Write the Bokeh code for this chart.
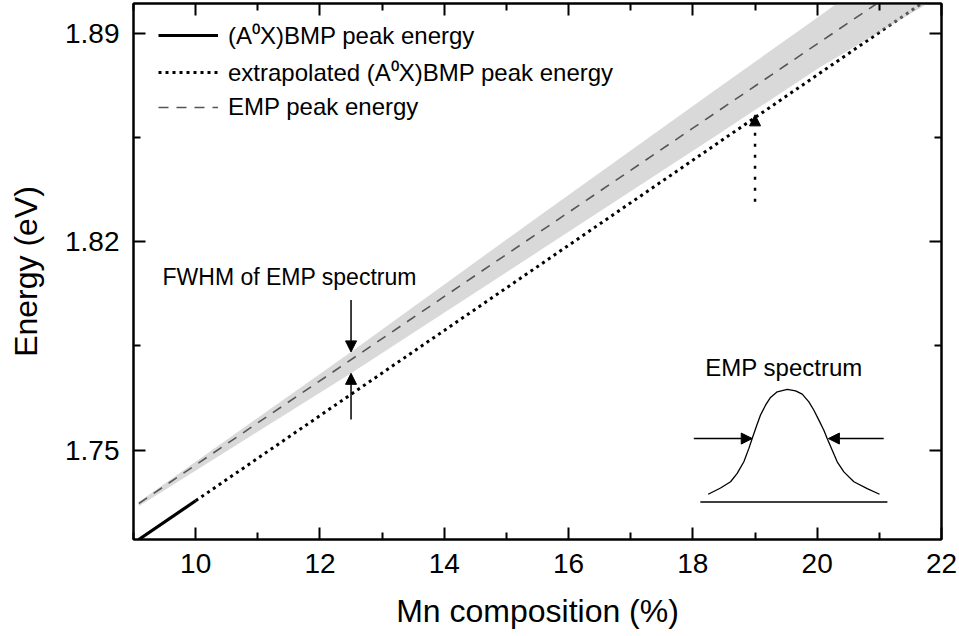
from bokeh.plotting import figure
from bokeh.models import (FixedTicker, LinearAxis, Range1d, Legend, LegendItem,
                          Arrow, NormalHead, Label)
from bokeh.embed import file_html
from bokeh.resources import INLINE

FONT = "Liberation Sans"

# ---------------- data ----------------
x_ticks = [10, 12, 14, 16, 18, 20, 22]
x_minor = [9, 11, 13, 15, 17, 19, 21]
y_ticks = [1.75, 1.82, 1.89]
y_minor = [1.785, 1.855]

# (A0X)BMP peak energy (measured)
bmp_x = [9.085, 10.0]
bmp_e = [1.7200, 1.7330]
# extrapolated (A0X)BMP peak energy
extrap_x = [10.0, 21.70]
extrap_e = [1.7330, 1.9003]
# EMP peak energy
emp_x = [9.085, 20.96]
emp_e = [1.7321, 1.9000]
# FWHM band of EMP spectrum
band_x = [9.085, 12.5, 15.55, 18.44, 20.05, 21.78]
band_upper = [1.7326, 1.7830, 1.8290, 1.8721, 1.8960, 1.9220]
band_lower = [1.7312, 1.7758, 1.8172, 1.8565, 1.8787, 1.9000]

# inset: sketch of an EMP spectrum
spec_x = [18.246, 18.445, 18.606, 18.713, 18.820, 18.901, 18.954, 19.024,
          19.088, 19.169, 19.249, 19.357, 19.518, 19.652, 19.759, 19.866,
          19.947, 20.027, 20.107, 20.161, 20.242, 20.322, 20.429, 20.590,
          20.805, 21.003]
spec_e = [1.7352, 1.7373, 1.7394, 1.7422, 1.7461, 1.7506, 1.7539, 1.7581,
          1.7618, 1.7651, 1.7677, 1.7696, 1.7704, 1.7699, 1.7688, 1.7662,
          1.7634, 1.7601, 1.7567, 1.7539, 1.7500, 1.7461, 1.7427, 1.7394,
          1.7371, 1.7352]
spec_base_x = [18.12, 21.13]
spec_base_e = [1.7326, 1.7326]
spec_arrow_e = 1.7539
spec_left_arrow = (18.015, 18.955)
spec_right_arrow = (21.07, 20.18)

# FWHM arrows at 12.5 %
fwhm_x = 12.5
fwhm_down = (1.8004, 1.7830)
fwhm_up = (1.7603, 1.7758)
# dotted arrow at 19 %
dot_arrow_x = 19.0
dot_arrow = (1.8334, 1.8626)

legend_labels = ["(A\u2070X)BMP peak energy",
                 "extrapolated (A\u2070X)BMP peak energy",
                 "EMP peak energy"]
fwhm_text = "FWHM of EMP spectrum"
fwhm_text_pos = (9.467, 1.8080)
spec_text = "EMP spectrum"
spec_text_pos = (18.20, 1.7776)

# ---------------- figure ----------------
p = figure(width=959, height=636, x_range=Range1d(9, 22), y_range=Range1d(1.72, 1.90),
           output_backend="svg", toolbar_location=None,
           min_border_left=133, min_border_right=18, min_border_top=3,
           min_border_bottom=97,
           x_axis_label="Mn composition (%)", y_axis_label="Energy (eV)")
p.xgrid.visible = False
p.ygrid.visible = False
p.outline_line_color = "black"
p.outline_line_width = 2
p.background_fill_color = "white"
p.border_fill_color = "white"


def style(ax, ticker, labels=True):
    ax.ticker = ticker
    ax.axis_line_width = 2
    ax.axis_line_color = "black"
    ax.major_tick_line_width = 2
    ax.minor_tick_line_width = 2
    ax.major_tick_in = 12
    ax.major_tick_out = 0
    ax.minor_tick_in = 7
    ax.minor_tick_out = 0
    ax.major_label_text_font = FONT
    ax.major_label_text_color = "black"
    ax.axis_label_text_font = FONT
    ax.axis_label_text_font_style = "normal"
    ax.axis_label_text_color = "black"
    if labels:
        ax.major_label_text_font_size = "28px"
        ax.axis_label_text_font_size = "32px"
    else:
        ax.major_label_text_font_size = "0px"
        ax.major_label_text_color = None
        ax.major_label_standoff = 0
        ax.axis_label = None


xt = FixedTicker(ticks=x_ticks, minor_ticks=x_minor)
yt = FixedTicker(ticks=y_ticks, minor_ticks=y_minor)
style(p.xaxis[0], xt)
style(p.yaxis[0], yt)
p.xaxis[0].major_label_standoff = 14
p.xaxis[0].axis_label_standoff = 17
p.yaxis[0].major_label_standoff = 14
p.yaxis[0].axis_label_standoff = 18

top = LinearAxis()
style(top, FixedTicker(ticks=x_ticks, minor_ticks=x_minor), labels=False)
p.add_layout(top, "above")
right = LinearAxis()
style(right, FixedTicker(ticks=y_ticks, minor_ticks=y_minor), labels=False)
p.add_layout(right, "right")

# ---------------- glyphs ----------------
r_dot = p.line(extrap_x, extrap_e, line_color="black", line_width=3, line_dash="3 4")
p.varea(x=band_x, y1=band_lower, y2=band_upper, fill_color="#b4b4b4", fill_alpha=0.5)
r_dash = p.line(emp_x, emp_e, line_color="#555555", line_width=1.6, line_dash="10 8")
r_solid = p.line(bmp_x, bmp_e, line_color="black", line_width=3.2)

# inset spectrum
p.line(spec_x, spec_e, line_color="black", line_width=1.3)
p.line(spec_base_x, spec_base_e, line_color="black", line_width=1.3)


def arrow(x0, y0, x1, y1, dash="solid", width=1.5):
    p.add_layout(Arrow(end=NormalHead(size=11, fill_color="black", line_color="black",
                                      line_width=1),
                       x_start=x0, y_start=y0, x_end=x1, y_end=y1,
                       line_color="black", line_width=width, line_dash=dash))


arrow(spec_left_arrow[0], spec_arrow_e, spec_left_arrow[1], spec_arrow_e)
arrow(spec_right_arrow[0], spec_arrow_e, spec_right_arrow[1], spec_arrow_e)
arrow(fwhm_x, fwhm_down[0], fwhm_x, fwhm_down[1])
arrow(fwhm_x, fwhm_up[0], fwhm_x, fwhm_up[1])
arrow(dot_arrow_x, dot_arrow[0], dot_arrow_x, dot_arrow[1], dash="3 8", width=2.5)

# texts
p.add_layout(Label(x=fwhm_text_pos[0], y=fwhm_text_pos[1], text=fwhm_text,
                   text_font=FONT, text_font_size="23px", text_baseline="middle",
                   text_align="left", text_color="black"))
p.add_layout(Label(x=spec_text_pos[0], y=spec_text_pos[1], text=spec_text,
                   text_font=FONT, text_font_size="24px", text_baseline="middle",
                   text_align="left", text_color="black"))

# legend
legend = Legend(items=[LegendItem(label=legend_labels[0], renderers=[r_solid]),
                       LegendItem(label=legend_labels[1], renderers=[r_dot]),
                       LegendItem(label=legend_labels[2], renderers=[r_dash])],
                location=(25, 417), orientation="vertical",
                border_line_color=None, background_fill_alpha=0,
                label_text_font=FONT, label_text_font_size="24px",
                label_text_color="black",
                glyph_width=60, glyph_height=20, label_height=30,
                label_standoff=10, spacing=4, padding=0, margin=0)
p.add_layout(legend)

open("out.html", "w").write(file_html(p, INLINE))
